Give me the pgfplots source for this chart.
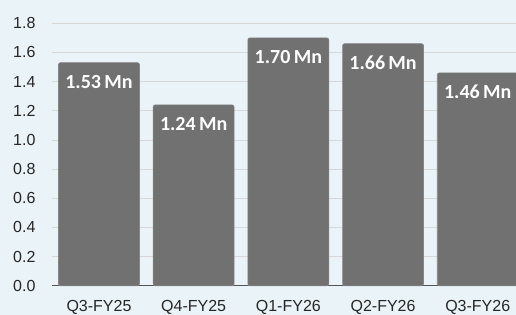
\documentclass[border=0pt]{standalone}
\usepackage{fontspec}
\setmainfont{Liberation Sans}
\newfontfamily\labfont{Carlito}
\usepackage{pgfplots}
\pgfplotsset{compat=1.18}
\definecolor{bg}{HTML}{EAF3F7}
\definecolor{barc}{HTML}{717171}
\definecolor{gridc}{HTML}{D9D6D6}
\definecolor{axc}{HTML}{555555}
\begin{document}
\begin{tikzpicture}
\useasboundingbox (0,0) rectangle (516bp,315bp);
\fill[bg] (0,0) rectangle (516bp,315bp);
\begin{axis}[
  at={(52bp,29.3bp)}, anchor=south west,
  scale only axis, width=464bp, height=262.4bp,
  xmin=-0.496, xmax=4.404, ymin=0, ymax=1.8,
  xtick={0,1,2,3,4},
  xticklabels={Q3-FY25,Q4-FY25,Q1-FY26,Q2-FY26,Q3-FY26},
  ytick={0,0.2,...,1.8},
  /pgf/number format/assume math mode=true,
  axis x line=bottom, axis y line=left,
  y axis line style={draw=none},
  x axis line style={draw=axc, line width=1bp, -},
  major tick length=0pt,
  tick style={draw=none},
  ymajorgrids, grid style={gridc, line width=0.8bp},
  tick label style={font=\fontsize{16bp}{19bp}\selectfont, color=black!85},
  y tick label style={xshift=-13bp, /pgf/number format/fixed, /pgf/number format/fixed zerofill, /pgf/number format/precision=1},
  x tick label style={yshift=-11bp},
  clip=false,
  ybar, bar width=0.855, bar shift=0pt,
  nodes near coords={\pgfmathprintnumber[fixed,fixed zerofill,precision=2]{\pgfplotspointmeta}\,Mn},
  nodes near coords align={center},
  every node near coord/.append style={yshift=-19bp, text=white, font=\labfont\bfseries\fontsize{20bp}{22bp}\selectfont},
]
\addplot[fill=barc, draw=barc!85!white, line width=0.6bp, rounded corners=2bp] coordinates {(0,1.53) (1,1.24) (2,1.70) (3,1.66) (4,1.46)};
\end{axis}
\end{tikzpicture}
\end{document}
